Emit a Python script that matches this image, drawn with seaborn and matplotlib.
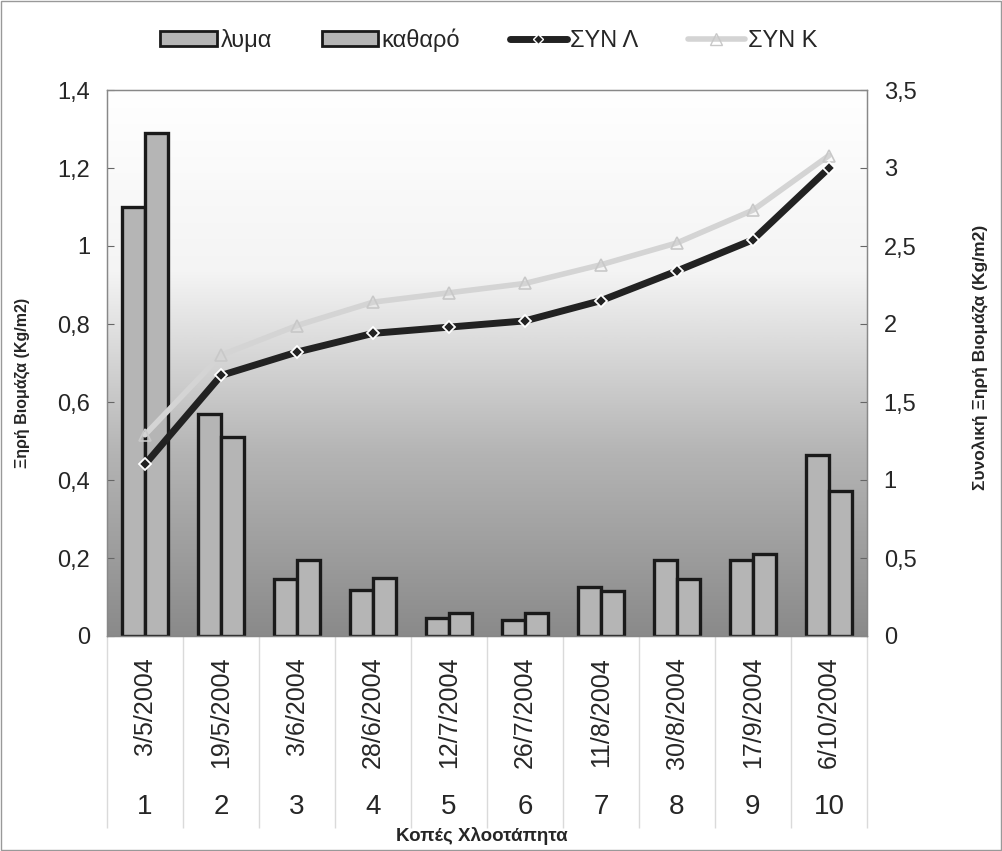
import numpy as np
import pandas as pd
import matplotlib
matplotlib.use("Agg")
import matplotlib.pyplot as plt
import seaborn as sns
from matplotlib.lines import Line2D
from matplotlib.patches import Patch, Rectangle
import matplotlib.transforms as mtransforms

# ---- data ----
cuts = ["1", "2", "3", "4", "5", "6", "7", "8", "9", "10"]
dates = ["3/5/2004", "19/5/2004", "3/6/2004", "28/6/2004", "12/7/2004",
         "26/7/2004", "11/8/2004", "30/8/2004", "17/9/2004", "6/10/2004"]
lyma = [1.10, 0.57, 0.145, 0.118, 0.045, 0.042, 0.125, 0.195, 0.195, 0.465]
katharo = [1.29, 0.51, 0.195, 0.148, 0.058, 0.060, 0.115, 0.145, 0.210, 0.372]
syn_l = [1.10, 1.67, 1.82, 1.94, 1.98, 2.02, 2.15, 2.34, 2.54, 3.00]
syn_k = [1.29, 1.80, 1.99, 2.14, 2.20, 2.26, 2.38, 2.52, 2.73, 3.08]
series_names = ["λυμα", "καθαρό", "ΣΥΝ Λ", "ΣΥΝ Κ"]

sns.set_style("white")
plt.rcParams["font.family"] = ["Liberation Sans", "DejaVu Sans"]

fig = plt.figure(figsize=(10.02, 8.51), dpi=100)
W, H = 1002, 851
ax = fig.add_axes([107 / W, 1 - 636 / H, (867 - 107) / W, (636 - 90) / H])

# gradient background
grad = np.linspace(0, 1, 256).reshape(-1, 1)
ax.imshow(grad, extent=[0, 1, 0, 1], transform=ax.transAxes, aspect="auto",
          cmap=matplotlib.colors.LinearSegmentedColormap.from_list(
              "g", ["#ffffff", "#f4f4f4", "#b4b4b4", "#8a8a8a"]),
          zorder=0, interpolation="bicubic")

bars = pd.DataFrame({
    "cut": cuts * 2,
    "value": lyma + katharo,
    "series": [series_names[0]] * 10 + [series_names[1]] * 10,
})
sns.barplot(data=bars, x="cut", y="value", hue="series", ax=ax,
            palette=["#b5b5b5", "#b5b5b5"], width=0.6, gap=0,
            edgecolor="#1a1a1a", linewidth=2.4, legend=False, zorder=2)
ax.set_xlim(-0.5, 9.5)
ax.set_ylim(0, 1.4)
ax.set_yticks(np.arange(0, 1.41, 0.2))
ax.set_yticklabels(["0", "0,2", "0,4", "0,6", "0,8", "1", "1,2", "1,4"], fontsize=17)
ax.set_xticks(range(10))
ax.set_xticklabels(dates, rotation=90, fontsize=18, va="top")
ax.tick_params(axis="x", which="major", length=0, pad=15, bottom=False)
ax.tick_params(axis="y", length=5, width=0.8, color="#666666", direction="in", pad=12, left=True)
ax.set_xlabel("")
ax.set_ylabel("Ξηρή Βιομάζα (Kg/m2)", fontsize=11.5, fontweight="bold")
ax.yaxis.set_label_coords(-0.101, 0.463)

# category separators
ax.set_xticks(np.arange(-0.5, 10, 1), minor=True)
ax.tick_params(axis="x", which="minor", bottom=True, length=138, width=1.0,
               color="#dadada", direction="out")

trans = mtransforms.blended_transform_factory(ax.transData, fig.transFigure)
for i, c in enumerate(cuts):
    ax.text(i, 1 - 807 / H, c, transform=trans, ha="center", va="center", fontsize=20)
fig.text(482 / W, 1 - 836 / H, "Κοπές Χλοοτάπητα", ha="center", va="center",
         fontsize=13.5, fontweight="bold")

for s in ["left", "right", "top", "bottom"]:
    ax.spines[s].set_color("#888888")
    ax.spines[s].set_linewidth(0.9)

ax2 = ax.twinx()
lines = pd.DataFrame({
    "pos": list(range(10)) * 2,
    "value": syn_k + syn_l,
    "series": [series_names[3]] * 10 + [series_names[2]] * 10,
})
sns.lineplot(data=lines[lines.series == series_names[3]], x="pos", y="value", ax=ax2,
             color="#d4d4d4", linewidth=4, marker="^", markersize=9,
             markerfacecolor="none", markeredgecolor="#c8c8c8", markeredgewidth=1.2,
             legend=False, zorder=3)
sns.lineplot(data=lines[lines.series == series_names[2]], x="pos", y="value", ax=ax2,
             color="#222222", linewidth=5, marker="D", markersize=6,
             markerfacecolor="#222222", markeredgecolor="white", markeredgewidth=1.3,
             legend=False, zorder=4)
ax2.set_ylim(0, 3.5)
ax2.set_yticks(np.arange(0, 3.51, 0.5))
ax2.set_yticklabels(["0", "0,5", "1", "1,5", "2", "2,5", "3", "3,5"], fontsize=17)
ax2.tick_params(axis="y", length=5, width=0.8, color="#666666", direction="in", pad=12, right=True)
ax2.set_ylabel("Συνολική Ξηρή Βιομάζα (Kg/m2)", fontsize=12.5, fontweight="bold")
ax2.yaxis.set_label_coords(1.14, 0.511)
ax2.set_xlabel("")
ax2.set_xlim(-0.5, 9.5)
for s in ["left", "right", "top", "bottom"]:
    ax2.spines[s].set_color("#888888")
    ax2.spines[s].set_linewidth(0.9)

handles = [
    Patch(facecolor="#b5b5b5", edgecolor="#1a1a1a", linewidth=2),
    Patch(facecolor="#b5b5b5", edgecolor="#1a1a1a", linewidth=2),
    Line2D([], [], color="#222222", lw=5, marker="D", markersize=5,
           markerfacecolor="#222222", markeredgecolor="white"),
    Line2D([], [], color="#d4d4d4", lw=4, marker="^", markersize=9,
           markerfacecolor="none", markeredgecolor="#c8c8c8"),
]
fig.legend(handles, series_names, loc="center", bbox_to_anchor=(489 / W, 1 - 40 / H),
           ncol=4, frameon=False, fontsize=17,
           handlelength=2.4, handleheight=0.6, handletextpad=0.15, columnspacing=2.1)

fig.patches.append(Rectangle((0.001, 0.001), 0.998, 0.998, transform=fig.transFigure,
                             fill=False, edgecolor="#999999", linewidth=1))

fig.savefig("out.png", dpi=100)
